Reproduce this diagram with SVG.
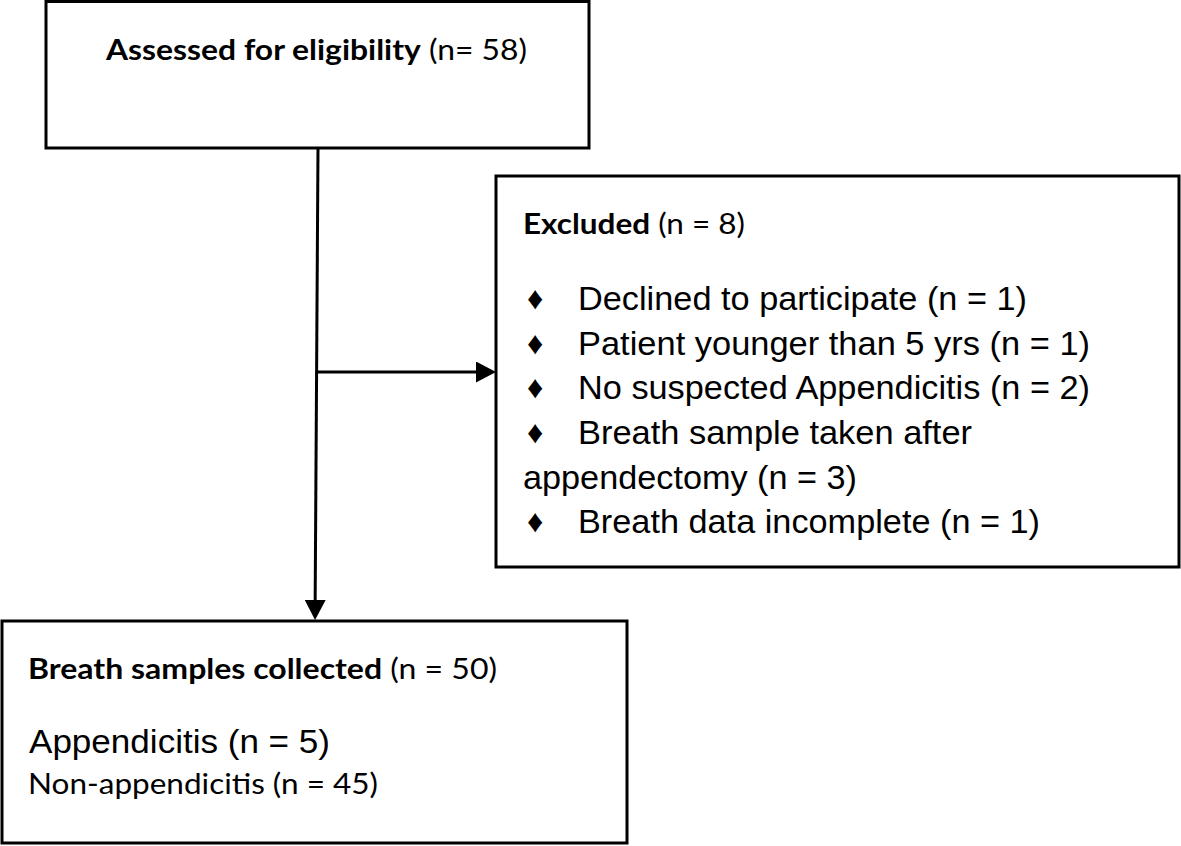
<svg xmlns="http://www.w3.org/2000/svg" width="1181" height="846" viewBox="0 0 1181 846">
<style>
.box{fill:#fff;stroke:#000;stroke-width:3}
.cal{font-family:Lato,"Open Sans","Liberation Sans",sans-serif;font-size:28px;fill:#000}
.b{font-weight:bold}
.ar{font-family:"Liberation Sans",Arial,sans-serif;font-size:33px;fill:#000}
.dia{font-family:"Liberation Sans","DejaVu Sans",sans-serif;font-size:32px;fill:#000}
.conn{fill:none;stroke:#000;stroke-width:3}
</style>
<defs>
<marker id="arr" viewBox="0 0 20 21" markerWidth="20" markerHeight="21" markerUnits="userSpaceOnUse" refX="10" refY="10.5" orient="auto">
<path d="M0,0 L20,10.5 L0,21 Z" fill="#000"/>
</marker>
</defs>
<g id="connectors">
<path class="conn" d="M318,148 L315.1,610" marker-end="url(#arr)"/>
<path class="conn" d="M317,372 L486,372" marker-end="url(#arr)"/>
</g>
<g id="assessed">
<rect class="box" x="46" y="1.5" width="543" height="146.5"/>
<text class="cal" x="106" y="60" textLength="421" lengthAdjust="spacingAndGlyphs"><tspan class="b">Assessed for eligibility</tspan> (n= 58)</text>
</g>
<g id="excluded">
<rect class="box" x="496" y="176" width="683" height="391"/>
<text class="cal" x="523" y="234" textLength="222" lengthAdjust="spacingAndGlyphs"><tspan class="b">Excluded</tspan> (n = 8)</text>
<text class="dia" x="527" y="309">♦</text>
<text class="ar" x="578" y="310" textLength="449" lengthAdjust="spacingAndGlyphs">Declined to participate (n = 1)</text>
<text class="dia" x="527" y="354">♦</text>
<text class="ar" x="578" y="355" textLength="512" lengthAdjust="spacingAndGlyphs">Patient younger than 5 yrs (n = 1)</text>
<text class="dia" x="527" y="398">♦</text>
<text class="ar" x="578" y="399" textLength="512" lengthAdjust="spacingAndGlyphs">No suspected Appendicitis (n = 2)</text>
<text class="dia" x="527" y="443">♦</text>
<text class="ar" x="578" y="444" textLength="394" lengthAdjust="spacingAndGlyphs">Breath sample taken after</text>
<text class="ar" x="523" y="489" textLength="334" lengthAdjust="spacingAndGlyphs">appendectomy (n = 3)</text>
<text class="dia" x="527" y="532">♦</text>
<text class="ar" x="578" y="533" textLength="462" lengthAdjust="spacingAndGlyphs">Breath data incomplete (n = 1)</text>
</g>
<g id="collected">
<rect class="box" x="2" y="621" width="625" height="222"/>
<text class="cal" x="28" y="679" textLength="469" lengthAdjust="spacingAndGlyphs"><tspan class="b">Breath samples collected</tspan> (n = 50)</text>
<text class="ar" x="29" y="753" textLength="301" lengthAdjust="spacingAndGlyphs">Appendicitis (n = 5)</text>
<text class="cal" x="28" y="794" textLength="350" lengthAdjust="spacingAndGlyphs">Non-appendicitis (n = 45)</text>
</g>
</svg>
